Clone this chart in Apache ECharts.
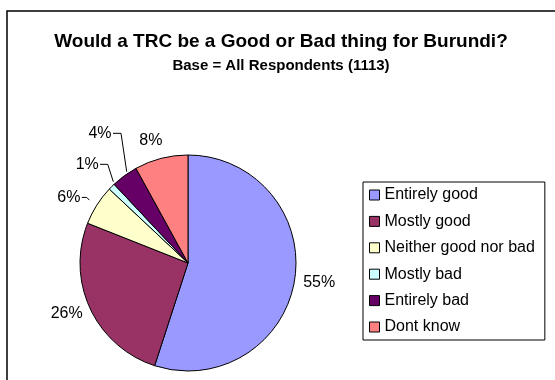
<!DOCTYPE html>
<html>
<head>
<meta charset="utf-8">
<script src="https://cdn.jsdelivr.net/npm/echarts@6/dist/echarts.min.js"></script>
<style>
  html, body { margin: 0; padding: 0; background: #fff; }
  #chart { width: 555px; height: 380px; }
</style>
</head>
<body>
<div id="chart"></div>
<script>
// Survey answers and their share of respondents (%)
const categories = ['Entirely good', 'Mostly good', 'Neither good nor bad', 'Mostly bad', 'Entirely bad', 'Dont know'];
const shares = [55, 26, 6, 1, 4, 8];
const titleText = 'Would a TRC be a Good or Bad thing for Burundi?';
const subtitleText = 'Base = All Respondents (1113)';

// Slice fills, in category order
const sliceColors = ['#9999FF', '#993366', '#FFFFCC', '#CCFFFF', '#660066', '#FF8080'];

// Pie geometry (pixels)
const pieCenter = [188, 263];
const pieRadius = 108;

// Where each percentage label sits, relative to the point on the rim at the
// slice's middle angle; small slices also get a short leader line.
const labelPlacement = [
  { label: [24.5, 2.4] },
  { label: [-23.6, 5] },
  { label: [-28, -7.7], line: [[-7.5, -5], [-10, -7.7], [-15, -7.7]] },
  { label: [-24.4, -22.3], line: [[1.7, -4.9], [-3.9, -22.3], [-11.6, -22.3]] },
  { label: [-24.5, -42.3], line: [[2.2, -3.9], [-3.5, -42.3], [-11.5, -42.3]] },
  { label: [-10.3, -17.7] }
];

const FONT = '"Liberation Sans", Arial, Helvetica, sans-serif';
const total = shares.reduce((a, b) => a + b, 0);

// Rim point at the middle of slice i (slices run clockwise from 12 o'clock)
function rimPoint(i) {
  let before = 0;
  for (let k = 0; k < i; k++) before += shares[k];
  const theta = (before + shares[i] / 2) / total * 2 * Math.PI;
  return [pieCenter[0] + pieRadius * Math.sin(theta), pieCenter[1] - pieRadius * Math.cos(theta)];
}

const chart = echarts.init(document.getElementById('chart'), null, { renderer: 'canvas' });

chart.setOption({
  backgroundColor: '#ffffff',
  animation: false,
  title: {
    text: titleText,
    subtext: subtitleText,
    left: 281,
    top: 31,
    textAlign: 'center',
    itemGap: 4,
    padding: 0,
    textStyle: { fontFamily: FONT, fontSize: 19, fontWeight: 'bold', color: '#000', lineHeight: 22 },
    subtextStyle: { fontFamily: FONT, fontSize: 15, fontWeight: 'bold', color: '#000', lineHeight: 17 }
  },
  legend: {
    orient: 'vertical',
    left: 363,
    top: 182,
    padding: [5, 10, 5, 6],
    itemWidth: 10,
    itemHeight: 10,
    itemGap: 10.4,
    icon: 'rect',
    borderColor: '#000',
    borderWidth: 1,
    backgroundColor: '#fff',
    selectedMode: false,
    itemStyle: { borderColor: '#000', borderWidth: 1 },
    textStyle: { fontFamily: FONT, fontSize: 16, lineHeight: 16, color: '#000' },
    data: categories
  },
  graphic: [{
    type: 'rect',
    z: -1,
    shape: { x: 7, y: 11, width: 620, height: 420 },
    style: { fill: 'none', stroke: '#000', lineWidth: 1.5 }
  }],
  series: [{
    type: 'pie',
    center: pieCenter,
    radius: pieRadius,
    startAngle: 90,
    clockwise: true,
    avoidLabelOverlap: false,
    itemStyle: { borderColor: '#000', borderWidth: 1 },
    emphasis: { disabled: true },
    label: {
      show: true,
      position: 'outside',
      formatter: '{c}%',
      fontFamily: FONT,
      fontSize: 16,
      color: '#000'
    },
    labelLine: { show: true, lineStyle: { color: '#000', width: 1 } },
    labelLayout: function (params) {
      const i = params.dataIndex;
      const rim = rimPoint(i);
      const place = labelPlacement[i];
      const out = {
        x: rim[0] + place.label[0],
        y: rim[1] + place.label[1],
        align: 'center',
        verticalAlign: 'middle'
      };
      if (place.line) {
        out.labelLinePoints = place.line.map(p => [rim[0] + p[0], rim[1] + p[1]]);
      }
      return out;
    },
    data: categories.map((name, i) => ({
      name: name,
      value: shares[i],
      itemStyle: { color: sliceColors[i] },
      labelLine: { show: !!labelPlacement[i].line }
    }))
  }]
});
</script>
</body>
</html>
